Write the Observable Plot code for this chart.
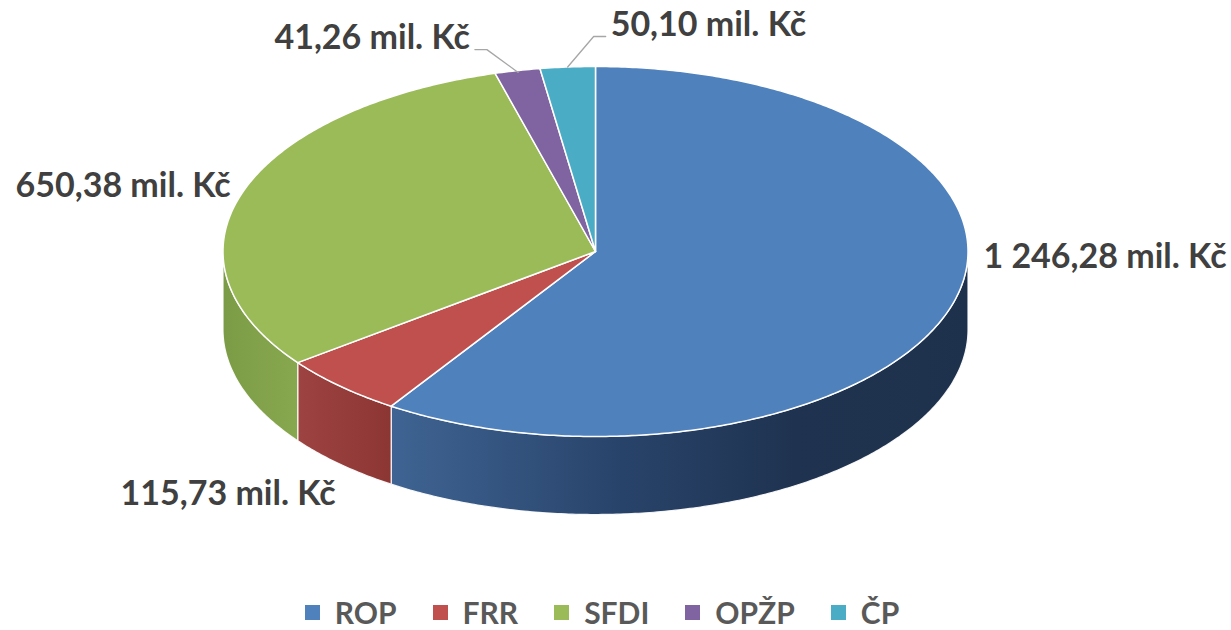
<!DOCTYPE html>
<html><head><meta charset="utf-8">
<script src="https://cdn.jsdelivr.net/npm/d3@7"></script>
<script src="https://cdn.jsdelivr.net/npm/@observablehq/plot@0.6"></script>
<style>
body{margin:0;background:#fff;font-family:Lato,"Open Sans",sans-serif;}
#wrap{position:relative;width:1231px;height:630px;overflow:hidden;}
#legend{position:absolute;left:0;top:599px;width:1231px;display:flex;justify-content:center;padding-right:27px;box-sizing:border-box;
  font-weight:700;font-size:30px;color:#595959;line-height:26px;height:26px;}
#legend .it{display:flex;align-items:center;margin:0 18px;}
#legend .sw{width:15px;height:15px;margin-right:15px;}
</style></head>
<body><div id="wrap"><div id="chart"></div><div id="legend"></div></div>
<script>
const categories = ["ROP", "FRR", "SFDI", "OPŽP", "ČP"];
const values = [1246.28, 115.73, 650.38, 41.26, 50.10];
const valueLabels = ["1 246,28 mil. Kč", "115,73 mil. Kč", "650,38 mil. Kč", "41,26 mil. Kč", "50,10 mil. Kč"];
const colors = ["#4F81BD", "#C0504D", "#9BBB59", "#8064A2", "#4BACC6"];
const sideStops = [
  [["0", "#3f6493"], ["0.4", "#28436a"], ["0.7", "#1f3350"], ["1", "#1e314c"]],
  [["0", "#9d4341"], ["1", "#8c3634"]],
  [["0", "#7c9b46"], ["1", "#88a84f"]],
  [["0", "#6a5388"], ["1", "#6a5388"]],
  [["0", "#3b8fa6"], ["1", "#3b8fa6"]]
];

// layout (pixels)
const W = 1231, H = 592;
const cx = 595, cy = 251, rx = 372.5, ry = 185, depth = 78;
// label offsets relative to slice mid-point on the rim
const labelLayout = [
  {dx: 31, dy: -47, anchor: "start"},
  {dx: -112.5, dy: 107.5, anchor: "middle"},
  {dx: -12, dy: -6, anchor: "end"},
  {dx: -47.5, dy: -32.5, anchor: "end"},
  {dx: 43, dy: -42, anchor: "start"}
];
// leader elbows / ends relative to label anchor
const leaderLayout = {3: {k: 0.99, elbow: [17, 11.5], end: [5, 11.5]}, 4: {k: 1, elbow: [-17, 11.5], end: [-5, 11.5]}};

const P = (a, k = 1, dz = 0) => ({x: cx + rx * k * Math.sin(a), y: cy - ry * k * Math.cos(a) + dz});
const arcs = d3.pie().sort(null).value(d => d.value)(categories.map((c, i) => ({key: c, value: values[i], i})));

function arcPts(a0, a1, dz = 0) {
  const n = Math.max(2, Math.ceil((a1 - a0) / 0.01));
  return d3.range(n + 1).map(j => P(a0 + (a1 - a0) * j / n, 1, dz));
}

const tops = [], sides = [];
for (const a of arcs) {
  const k = a.data.key;
  tops.push(...[{x: cx, y: cy}, ...arcPts(a.startAngle, a.endAngle), {x: cx, y: cy}].map(p => ({...p, key: k})));
  const s = Math.max(a.startAngle, Math.PI / 2), e = Math.min(a.endAngle, 3 * Math.PI / 2);
  if (s < e) {
    const top = arcPts(s, e), bot = arcPts(s, e, depth).reverse();
    sides.push({key: k, i: a.data.i, pts: [...top, ...bot, top[0]].map(p => ({...p, key: k}))});
  }
}

const labels = arcs.map((a, i) => {
  const m = P((a.startAngle + a.endAngle) / 2);
  return {x: m.x + labelLayout[i].dx, y: m.y + labelLayout[i].dy, text: valueLabels[i], anchor: labelLayout[i].anchor, i};
});
const leaders = [];
Object.entries(leaderLayout).forEach(([i, L]) => {
  const a = arcs[i], m = P((a.startAngle + a.endAngle) / 2, L.k), lb = labels[i];
  leaders.push(...[m, {x: lb.x + L.elbow[0], y: lb.y + L.elbow[1]}, {x: lb.x + L.end[0], y: lb.y + L.end[1]}]
    .map(p => ({...p, key: categories[i]})));
});

const textFont = {fontFamily: "Lato, 'Open Sans', sans-serif", fontWeight: 700, fontSize: 34, fill: "#404040"};

const chart = Plot.plot({
  width: W, height: H, margin: 0,
  x: {domain: [0, W], range: [0, W], axis: null},
  y: {domain: [0, H], range: [0, H], axis: null},
  color: {domain: categories, range: colors},
  marks: [
    ...sides.map(sd => Plot.line(sd.pts, {x: "x", y: "y", fill: `url(#side${sd.i})`, stroke: "white", strokeWidth: 1.2, strokeOpacity: 0.9})),
    Plot.line(tops, {x: "x", y: "y", z: "key", fill: "key", stroke: "white", strokeWidth: 1.5}),
    Plot.line(leaders, {x: "x", y: "y", z: "key", stroke: "#a6a6a6", strokeWidth: 1.3}),
    ...["start", "end", "middle"].map(anc =>
      Plot.text(labels.filter(d => d.anchor === anc), {x: "x", y: "y", text: "text", textAnchor: anc, ...textFont}))
  ]
});

// gradients for side walls
const xs = chart.scale("x");
const defs = d3.select(chart).insert("defs", ":first-child");
sides.forEach(sd => {
  const x0 = xs.apply(d3.min(sd.pts, p => p.x)), x1 = xs.apply(d3.max(sd.pts, p => p.x));
  const g = defs.append("linearGradient").attr("id", `side${sd.i}`).attr("gradientUnits", "userSpaceOnUse")
    .attr("x1", x0).attr("x2", x1).attr("y1", 0).attr("y2", 0);
  sideStops[sd.i].forEach(([o, c]) => g.append("stop").attr("offset", o).attr("stop-color", c));
});

document.getElementById("chart").appendChild(chart);

const leg = d3.select("#legend");
categories.forEach((c, i) => {
  const it = leg.append("div").attr("class", "it");
  it.append("div").attr("class", "sw").style("background", colors[i]);
  it.append("span").text(c);
});
</script>
</body></html>
